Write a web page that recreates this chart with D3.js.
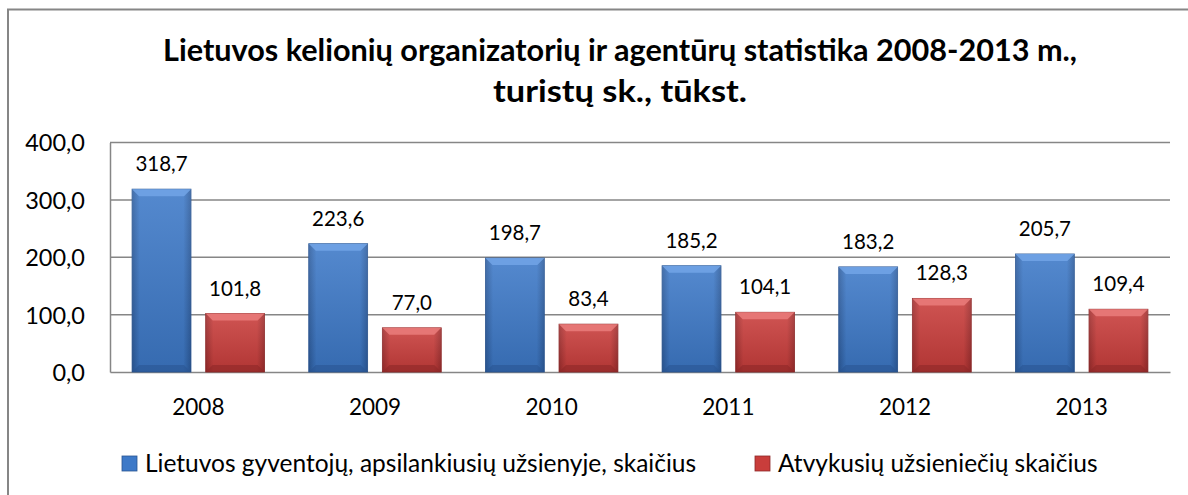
<!DOCTYPE html>
<html><head><meta charset="utf-8">
<script src="https://cdn.jsdelivr.net/npm/d3@7"></script>
<style>
html,body{margin:0;padding:0;background:#fff;}
svg{display:block;font-family:Lato,"Open Sans",sans-serif;}
</style></head>
<body>
<svg id="c" width="1188" height="495"></svg>
<script>
const categories = ["2008","2009","2010","2011","2012","2013"];
const seriesNames = ["Lietuvos gyventojų, apsilankiusių užsienyje, skaičius","Atvykusių užsieniečių skaičius"];
const residents = [318.7,223.6,198.7,185.2,183.2,205.7];
const foreigners = [101.8,77.0,83.4,104.1,128.3,109.4];
const yTicks = [0,100,200,300,400];
const titleLines = ["Lietuvos kelionių organizatorių ir agentūrų statistika 2008-2013 m.,","turistų sk., tūkst."];

const svg = d3.select("#c");
const fmt = v => v.toFixed(1).replace(".", ",");
function fit(sel, target){
  const w = sel.node().getComputedTextLength();
  if (Math.abs(w-target) > 2) sel.attr("textLength",target).attr("lengthAdjust","spacingAndGlyphs");
}

svg.append("rect").attr("x",8).attr("y",9.5).attr("width",1300).attr("height",600)
  .attr("fill","#fff").attr("stroke","#868686").attr("stroke-width",2);

const m = {left:110, right:1170, top:142.5, bottom:372};
const x0 = d3.scaleBand().domain(categories).range([m.left,m.right]).padding(0);
const x1 = d3.scaleBand().domain([0,1]).range([0,x0.bandwidth()]).paddingInner(0.2).paddingOuter(0.3);
const y = d3.scaleLinear().domain([0,400]).range([m.bottom,m.top]);

const defs = svg.append("defs");
function grad(id, edge, mid){
  const g = defs.append("linearGradient").attr("id",id).attr("x1","0").attr("x2","1").attr("y1","0").attr("y2","0");
  g.append("stop").attr("offset","0").attr("stop-color",edge);
  g.append("stop").attr("offset","0.13").attr("stop-color",mid);
  g.append("stop").attr("offset","0.87").attr("stop-color",mid);
  g.append("stop").attr("offset","1").attr("stop-color",edge);
}
grad("gb","#2c5c9e","#3d79c8");
grad("gr","#9e2c2c","#c93d3b");
const vg = defs.append("linearGradient").attr("id","shade").attr("x1","0").attr("x2","0").attr("y1","0").attr("y2","1");
vg.append("stop").attr("offset","0").attr("stop-color","#fff").attr("stop-opacity",0.12);
vg.append("stop").attr("offset","1").attr("stop-color","#000").attr("stop-opacity",0.12);
const colors = [{fill:"url(#gb)",top:"#72a4e6",bottom:"#2a5592",legend:"#3d79c8"},
                {fill:"url(#gr)",top:"#ea7d7b",bottom:"#8e2828",legend:"#c93d3b"}];

svg.append("g").selectAll("line").data(yTicks.filter(d=>d>0)).join("line")
  .attr("x1",m.left).attr("x2",m.right).attr("y1",d=>y(d)).attr("y2",d=>y(d))
  .attr("stroke","#868686").attr("stroke-width",1.5);

const yAxis = svg.append("g").attr("transform",`translate(${m.left},0)`)
  .call(d3.axisLeft(y).tickValues(yTicks).tickFormat(fmt).tickSize(0).tickPadding(25));
yAxis.select(".domain").attr("stroke","#868686").attr("stroke-width",1.5);
yAxis.selectAll("text").attr("font-size",23.5).attr("fill","#000").attr("font-family","Lato").attr("dy","0.36em");

const xAxis = svg.append("g").attr("transform",`translate(0,${m.bottom})`)
  .call(d3.axisBottom(x0).tickSize(0).tickPadding(27));
xAxis.select(".domain").attr("stroke","#868686").attr("stroke-width",1.5);
xAxis.selectAll("text").attr("font-size",22.5).attr("fill","#000").attr("font-family","Lato");

const series = [residents, foreigners];
series.forEach((vals, si) => {
  const g = svg.append("g");
  const data = categories.map((c,i)=>({c, v:vals[i]}));
  const bw = x1.bandwidth();
  const bev = 7;
  const bx = d => x0(d.c)+x1(si);
  g.selectAll("rect.bar").data(data).join("rect").attr("class","bar")
    .attr("x",bx).attr("y",d=>y(d.v))
    .attr("width",bw).attr("height",d=>y(0)-y(d.v))
    .attr("fill",colors[si].fill).attr("stroke",colors[si].bottom).attr("stroke-width",0.8);
  g.selectAll("rect.shade").data(data).join("rect").attr("class","shade")
    .attr("x",bx).attr("y",d=>y(d.v))
    .attr("width",bw).attr("height",d=>y(0)-y(d.v))
    .attr("fill","url(#shade)");
  g.selectAll("path.top").data(data).join("path").attr("class","top")
    .attr("d",d=>{const xl=bx(d), xr=xl+bw, yt=y(d.v);
      return `M${xl},${yt}L${xr},${yt}L${xr-bev},${yt+bev}L${xl+bev},${yt+bev}Z`;})
    .attr("fill",colors[si].top).attr("opacity",0.85);
  g.selectAll("path.bot").data(data).join("path").attr("class","bot")
    .attr("d",d=>{const xl=bx(d), xr=xl+bw, yb=y(0);
      return `M${xl},${yb}L${xr},${yb}L${xr-bev},${yb-bev}L${xl+bev},${yb-bev}Z`;})
    .attr("fill",colors[si].bottom).attr("opacity",0.6);
  g.selectAll("text").data(data).join("text")
    .attr("x",d=>bx(d)+bw/2).attr("y",d=>y(d.v)-18)
    .attr("text-anchor","middle").attr("font-size",20.5).attr("fill","#000")
    .text(d=>fmt(d.v));
});

const titleW = [914, 254];
svg.append("g").selectAll("text").data(titleLines).join("text")
  .attr("x",620).attr("y",(d,i)=>61+i*41).attr("text-anchor","middle")
  .attr("font-size",30.5).attr("font-weight","bold").attr("fill","#000")
  .text(d=>d)
  .each(function(d,i){ fit(d3.select(this), titleW[i]); });

const legX = [122, 755], legTW = [553, 318];
const lg = svg.append("g");
seriesNames.forEach((name,i)=>{
  lg.append("rect").attr("x",legX[i]).attr("y",456).attr("width",15).attr("height",15)
    .attr("fill",colors[i].legend).attr("stroke",colors[i].bottom).attr("stroke-width",0.8);
  const t = lg.append("text").attr("x",legX[i]+23).attr("y",472).attr("font-size",24.5).attr("fill","#000").text(name);
  fit(t, legTW[i]);
});
</script>
</body></html>
